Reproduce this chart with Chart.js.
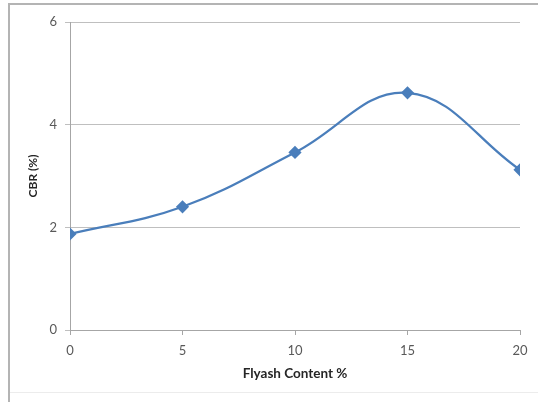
<!DOCTYPE html>
<html>
<head>
<meta charset="utf-8">
<script src="https://cdn.jsdelivr.net/npm/chart.js@4/dist/chart.umd.min.js"></script>
<style>
  html, body { margin: 0; padding: 0; background: #fff; }
  #wrap { position: relative; width: 538px; height: 402px; }
  #frame { position: absolute; left: 8px; top: 3px; width: 540px; height: 410px;
           border-left: 2px solid #b4b4b4; border-top: 2px solid #b4b4b4; box-sizing: border-box; }
  #foot { position: absolute; left: 10px; top: 392px; width: 528px; height: 1px; background: #ececec; }
  canvas { position: absolute; left: 0; top: 0; }
</style>
</head>
<body>
<div id="wrap">
  <canvas id="c" width="538" height="402"></canvas>
  <div id="frame"></div>
  <div id="foot"></div>
</div>
<script>
// Flyash content (%) and the measured CBR (%)
const flyashContent = [0, 5, 10, 15, 20];
const cbrValues = [1.87, 2.4, 3.46, 4.62, 3.12];
const xTicks = [0, 5, 10, 15, 20];
const yTicks = [0, 2, 4, 6];

const points = flyashContent.map((x, i) => ({ x: x, y: cbrValues[i] }));
const blue = '#4a7ebb';
const font = "Lato, 'Open Sans', 'Liberation Sans', sans-serif";

new Chart(document.getElementById('c'), {
  type: 'line',
  data: {
    datasets: [{
      data: points,
      borderColor: blue,
      backgroundColor: blue,
      borderWidth: 2.25,
      tension: 0.4,
      pointStyle: 'rectRot',
      pointRadius: 5,
      pointHoverRadius: 5,
      pointBackgroundColor: blue,
      pointBorderColor: blue,
      fill: false
    }]
  },
  options: {
    responsive: false,
    animation: false,
    layout: { padding: { left: 22, right: 18, top: 22, bottom: 16 } },
    plugins: { legend: { display: false }, tooltip: { enabled: false } },
    scales: {
      x: {
        type: 'linear',
        min: xTicks[0],
        max: xTicks[xTicks.length - 1],
        afterBuildTicks: (axis) => { axis.ticks = xTicks.map(v => ({ value: v })); },
        afterFit: (axis) => { axis.height = 56; },
        grid: { drawOnChartArea: false, color: '#a6a6a6', tickLength: 5 },
        border: { color: '#a6a6a6', width: 1 },
        ticks: { color: '#595959', font: { family: font, size: 13 }, padding: 8 },
        title: { display: true, text: 'Flyash Content %', color: '#262626',
                 font: { family: font, size: 13.5, weight: 'bold' }, padding: { top: 6 } }
      },
      y: {
        type: 'linear',
        min: yTicks[0],
        max: yTicks[yTicks.length - 1],
        afterBuildTicks: (axis) => { axis.ticks = yTicks.map(v => ({ value: v })); },
        afterFit: (axis) => { axis.width = 48; },
        grid: { color: '#bfbfbf', tickLength: 5 },
        border: { color: '#a6a6a6', width: 1 },
        ticks: { color: '#595959', font: { family: font, size: 13 }, padding: 8 },
        title: { display: true, text: 'CBR (%)', color: '#262626',
                 font: { family: font, size: 12, weight: 'bold' }, padding: { bottom: 4 } }
      }
    }
  }
});
</script>
</body>
</html>
